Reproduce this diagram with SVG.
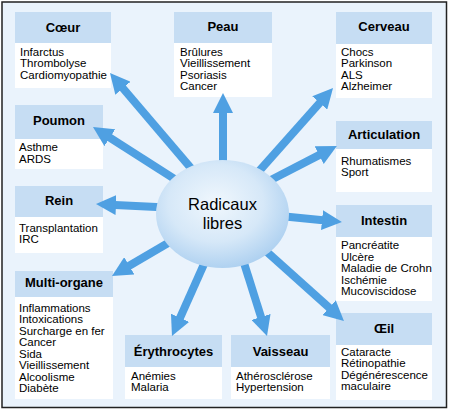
<svg xmlns="http://www.w3.org/2000/svg" width="450" height="412" viewBox="0 0 450 412">
<defs>
<radialGradient id="g" cx="0.45" cy="0.4" r="0.65">
<stop offset="0" stop-color="#f0f7fd"/>
<stop offset="0.55" stop-color="#d6e8f8"/>
<stop offset="1" stop-color="#a8cdef"/>
</radialGradient>
<marker id="ah" markerUnits="userSpaceOnUse" markerWidth="20" markerHeight="20" viewBox="0 0 20 20" refX="1" refY="10" orient="auto">
<path d="M0,0 L20,10 L0,20 z" fill="#4fa0e2"/>
</marker>
<style>
.hd{fill:#c6ddf3}
.bd{fill:#ffffff}
.ht{font-family:"Liberation Sans",Arial,sans-serif;font-weight:bold;font-size:13px;fill:#000;text-anchor:middle}
.bt{font-family:"Liberation Sans",Arial,sans-serif;font-size:11.5px;fill:#000}
.ar{stroke:#4fa0e2;stroke-width:8;fill:none;marker-end:url(#ah)}
.ct{font-family:"Liberation Sans",Arial,sans-serif;font-size:16.5px;fill:#000;text-anchor:middle}
</style>
</defs>
<rect x="0" y="0" width="450" height="412" fill="#ffffff"/>
<rect x="2" y="2" width="444.5" height="405.5" fill="#eaf3fc" stroke="#222" stroke-width="1.5"/>

<g id="coeur">
<rect class="hd" x="15" y="12" width="96" height="31"/>
<rect class="bd" x="15" y="43" width="96" height="45"/>
<text class="ht" x="63" y="32">Cœur</text>
<text class="bt" x="20" y="56">Infarctus</text>
<text class="bt" x="20" y="67.3">Thrombolyse</text>
<text class="bt" x="20" y="78.6">Cardiomyopathie</text>
</g>

<g id="peau">
<rect class="hd" x="174" y="12" width="98" height="31"/>
<rect class="bd" x="174" y="43" width="98" height="54"/>
<text class="ht" x="223" y="31">Peau</text>
<text class="bt" x="180" y="55.5">Brûlures</text>
<text class="bt" x="180" y="67">Vieillissement</text>
<text class="bt" x="180" y="78.5">Psoriasis</text>
<text class="bt" x="180" y="90">Cancer</text>
</g>

<g id="cerveau">
<rect class="hd" x="336" y="12" width="96" height="32"/>
<rect class="bd" x="336" y="44" width="96" height="54"/>
<text class="ht" x="384" y="31">Cerveau</text>
<text class="bt" x="341" y="55.5">Chocs</text>
<text class="bt" x="341" y="67">Parkinson</text>
<text class="bt" x="341" y="78.5">ALS</text>
<text class="bt" x="341" y="90">Alzheimer</text>
</g>

<g id="poumon">
<rect class="hd" x="15" y="105" width="88" height="34"/>
<rect class="bd" x="15" y="139" width="88" height="30"/>
<text class="ht" x="59" y="125">Poumon</text>
<text class="bt" x="19" y="151">Asthme</text>
<text class="bt" x="19" y="162.5">ARDS</text>
</g>

<g id="rein">
<rect class="hd" x="15" y="186" width="88" height="31"/>
<rect class="bd" x="15" y="217" width="88" height="36"/>
<text class="ht" x="59" y="204.5">Rein</text>
<text class="bt" x="19" y="231.5">Transplantation</text>
<text class="bt" x="19" y="243">IRC</text>
</g>

<g id="multi-organe">
<rect class="hd" x="15" y="271" width="98" height="26"/>
<rect class="bd" x="15" y="297" width="98" height="102"/>
<text class="ht" x="64" y="287">Multi-organe</text>
<text class="bt" x="19" y="311.5">Inflammations</text>
<text class="bt" x="19" y="323">Intoxications</text>
<text class="bt" x="19" y="334.5">Surcharge en fer</text>
<text class="bt" x="19" y="346">Cancer</text>
<text class="bt" x="19" y="357.5">Sida</text>
<text class="bt" x="19" y="369">Vieillissement</text>
<text class="bt" x="19" y="380.5">Alcoolisme</text>
<text class="bt" x="19" y="392">Diabète</text>
</g>

<g id="erythrocytes">
<rect class="hd" x="125" y="335" width="97" height="32"/>
<rect class="bd" x="125" y="367" width="97" height="32"/>
<text class="ht" x="173.5" y="355.5">Érythrocytes</text>
<text class="bt" x="131" y="379.5">Anémies</text>
<text class="bt" x="131" y="391">Malaria</text>
</g>

<g id="vaisseau">
<rect class="hd" x="231" y="335" width="99" height="32"/>
<rect class="bd" x="231" y="367" width="99" height="32"/>
<text class="ht" x="280.5" y="355.5">Vaisseau</text>
<text class="bt" x="236" y="379.5">Athérosclérose</text>
<text class="bt" x="236" y="391">Hypertension</text>
</g>

<g id="oeil">
<rect class="hd" x="336" y="313" width="96" height="32"/>
<rect class="bd" x="336" y="345" width="96" height="55"/>
<text class="ht" x="384" y="333">Œil</text>
<text class="bt" x="341" y="355.5">Cataracte</text>
<text class="bt" x="341" y="367">Rétinopathie</text>
<text class="bt" x="341" y="378.5">Dégénérescence</text>
<text class="bt" x="341" y="390">maculaire</text>
</g>

<g id="articulation">
<rect class="hd" x="336" y="121" width="96" height="28"/>
<rect class="bd" x="336" y="149" width="96" height="43"/>
<text class="ht" x="384" y="139">Articulation</text>
<text class="bt" x="341" y="164.5">Rhumatismes</text>
<text class="bt" x="341" y="176">Sport</text>
</g>

<g id="intestin">
<rect class="hd" x="336" y="205" width="96" height="32"/>
<rect class="bd" x="336" y="237" width="96" height="64"/>
<text class="ht" x="384" y="225">Intestin</text>
<text class="bt" x="341" y="249">Pancréatite</text>
<text class="bt" x="341" y="260.5">Ulcère</text>
<text class="bt" x="341" y="272">Maladie de Crohn</text>
<text class="bt" x="341" y="283.5">Ischémie</text>
<text class="bt" x="341" y="295">Mucoviscidose</text>
</g>

<g id="connectors">
<line class="ar" x1="196.5" y1="174.6" x2="122.3" y2="87.5"/>
<line class="ar" x1="223" y1="170" x2="223" y2="112"/>
<line class="ar" x1="253.4" y1="177.5" x2="320.4" y2="102.2"/>
<line class="ar" x1="181.4" y1="183.4" x2="109" y2="137.2"/>
<line class="ar" x1="167" y1="207.5" x2="115" y2="205"/>
<line class="ar" x1="176.6" y1="238" x2="128.4" y2="266.3"/>
<line class="ar" x1="209" y1="252.9" x2="179.7" y2="318.7"/>
<line class="ar" x1="241" y1="253.5" x2="261.3" y2="317.9"/>
<line class="ar" x1="259.5" y1="245.3" x2="329.8" y2="308.3"/>
<line class="ar" x1="280" y1="216" x2="323" y2="220.2"/>
<line class="ar" x1="266" y1="182.5" x2="320" y2="154.6"/>
</g>

<g id="radicaux">
<ellipse cx="222.5" cy="214" rx="66.5" ry="54" fill="url(#g)"/>
<text class="ct" x="222.5" y="210">Radicaux</text>
<text class="ct" x="222.5" y="228.5">libres</text>
</g>
</svg>
